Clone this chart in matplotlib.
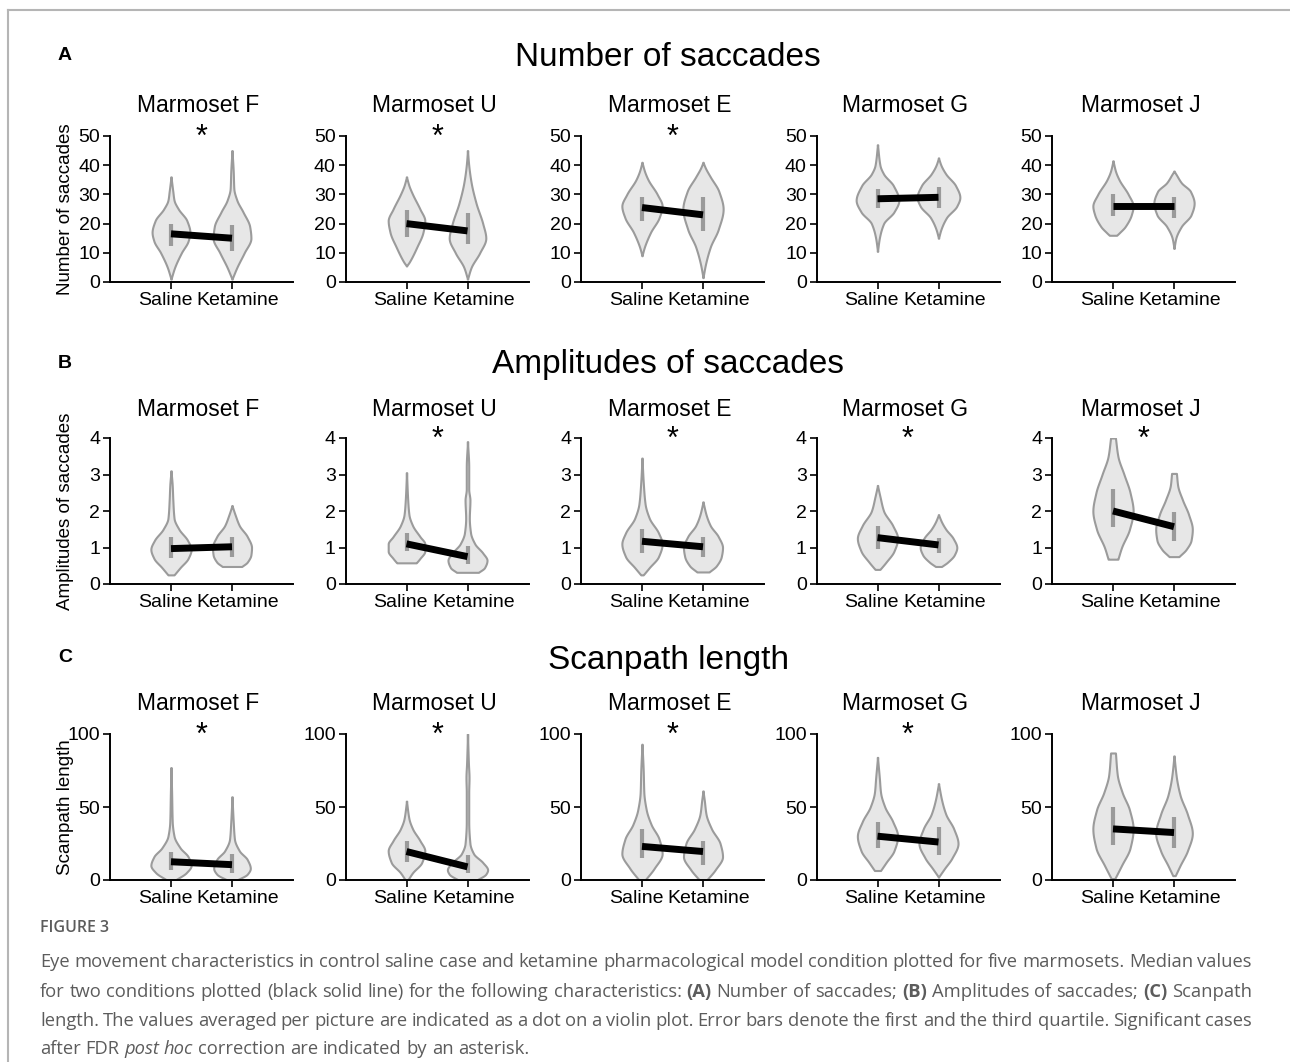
import numpy as np
import matplotlib
matplotlib.use('Agg')
import matplotlib.pyplot as plt
import matplotlib.transforms as mtransforms
from matplotlib.lines import Line2D

plt.rcParams['font.family'] = ['Liberation Sans', 'DejaVu Sans']

# ---------------- data ----------------
monkeys = ['Marmoset F', 'Marmoset U', 'Marmoset E', 'Marmoset G', 'Marmoset J']
conditions = ['Saline', 'Ketamine']

# A: number of saccades
nsac_med_saline = [16.5, 20.0, 25.5, 28.5, 26.0]
nsac_med_ketamine = [15.0, 17.5, 23.0, 29.0, 26.0]
nsac_q_saline = [(12.5, 20.0), (15.5, 24.5), (21.0, 29.0), (25.5, 32.0), (22.5, 30.0)]
nsac_q_ketamine = [(10.5, 19.5), (13.0, 23.5), (17.5, 29.0), (25.5, 32.5), (22.0, 29.0)]
nsac_shape_saline = [
    [(1, 0.0), (5, 0.06), (10, 0.17), (14, 0.28), (17, 0.31), (21, 0.26), (25, 0.12), (28, 0.05), (31, 0.03), (36, 0.0)],
    [(5.5, 0.0), (7, 0.05), (12, 0.17), (17, 0.27), (21, 0.30), (25, 0.22), (30, 0.10), (33, 0.04), (36, 0.0)],
    [(9, 0.0), (12, 0.04), (17, 0.14), (22, 0.28), (26, 0.33), (30, 0.25), (35, 0.10), (38, 0.04), (41, 0.0)],
    [(10.5, 0.0), (15, 0.03), (20, 0.10), (24, 0.27), (28, 0.35), (33, 0.26), (37, 0.10), (40, 0.04), (47, 0.0)],
    [(16, 0.06), (17, 0.11), (19, 0.20), (23, 0.30), (26, 0.33), (30, 0.25), (35, 0.10), (38, 0.04), (41.5, 0.0)],
]
nsac_shape_ketamine = [
    [(1, 0.0), (5, 0.08), (10, 0.20), (15, 0.31), (19, 0.29), (24, 0.18), (28, 0.08), (32, 0.03), (38, 0.02), (45, 0.0)],
    [(1, 0.0), (5, 0.06), (10, 0.20), (15, 0.30), (20, 0.25), (27, 0.14), (34, 0.06), (40, 0.02), (45, 0.0)],
    [(1.5, 0.0), (6, 0.04), (12, 0.12), (18, 0.25), (25, 0.33), (31, 0.26), (36, 0.12), (39, 0.04), (41, 0.0)],
    [(15, 0.0), (18, 0.04), (22, 0.13), (26, 0.30), (29, 0.35), (33, 0.28), (37, 0.12), (40, 0.04), (42.5, 0.0)],
    [(11.5, 0.0), (15, 0.03), (19, 0.12), (23, 0.28), (27, 0.33), (31, 0.27), (34, 0.12), (37, 0.03), (38, 0.0)],
]
nsac_signif = [True, True, True, False, False]

# B: amplitudes of saccades
amp_med_saline = [0.97, 1.10, 1.17, 1.27, 2.00]
amp_med_ketamine = [1.02, 0.75, 1.02, 1.07, 1.57]
amp_q_saline = [(0.72, 1.30), (0.90, 1.40), (0.85, 1.50), (0.97, 1.60), (1.55, 2.60)]
amp_q_ketamine = [(0.75, 1.30), (0.55, 1.05), (0.75, 1.30), (0.85, 1.25), (1.17, 1.97)]
amp_shape_saline = [
    [(0.25, 0.05), (0.45, 0.15), (0.7, 0.28), (0.95, 0.33), (1.2, 0.27), (1.5, 0.13), (1.8, 0.05), (2.3, 0.03), (2.7, 0.02), (3.1, 0.0)],
    [(0.58, 0.16), (0.7, 0.22), (0.9, 0.30), (1.1, 0.30), (1.3, 0.22), (1.6, 0.10), (1.9, 0.04), (2.3, 0.02), (3.05, 0.0)],
    [(0.25, 0.02), (0.45, 0.12), (0.75, 0.27), (1.1, 0.33), (1.4, 0.27), (1.8, 0.12), (2.2, 0.05), (2.8, 0.02), (3.45, 0.0)],
    [(0.4, 0.04), (0.6, 0.14), (0.9, 0.27), (1.25, 0.33), (1.6, 0.25), (2.0, 0.10), (2.4, 0.04), (2.7, 0.0)],
    [(0.68, 0.08), (1.0, 0.14), (1.5, 0.27), (2.0, 0.33), (2.5, 0.28), (3.0, 0.18), (3.5, 0.08), (4.0, 0.04)],
]
amp_shape_ketamine = [
    [(0.48, 0.16), (0.6, 0.25), (0.8, 0.31), (1.0, 0.32), (1.3, 0.25), (1.6, 0.12), (1.9, 0.05), (2.15, 0.0)],
    [(0.32, 0.18), (0.45, 0.28), (0.65, 0.32), (0.85, 0.25), (1.1, 0.12), (1.4, 0.05), (1.8, 0.03), (2.3, 0.04), (2.6, 0.02), (3.2, 0.02), (3.9, 0.0)],
    [(0.33, 0.10), (0.5, 0.22), (0.75, 0.30), (1.0, 0.32), (1.3, 0.25), (1.6, 0.12), (1.9, 0.05), (2.25, 0.0)],
    [(0.48, 0.05), (0.6, 0.15), (0.8, 0.26), (1.0, 0.30), (1.25, 0.24), (1.5, 0.12), (1.7, 0.05), (1.9, 0.0)],
    [(0.75, 0.08), (0.95, 0.20), (1.2, 0.28), (1.5, 0.30), (1.9, 0.24), (2.3, 0.14), (2.7, 0.06), (3.03, 0.04)],
]
amp_signif = [False, True, True, True, True]

# C: scanpath length
scan_med_saline = [12.5, 19.5, 23.0, 30.0, 35.0]
scan_med_ketamine = [10.5, 9.0, 19.5, 26.0, 32.5]
scan_q_saline = [(7, 19), (12, 27), (15, 35), (22, 40), (24, 50)]
scan_q_ketamine = [(5, 17.5), (5, 17), (10, 27), (17, 36), (22, 43)]
scan_shape_saline = [
    [(0, 0.07), (5, 0.25), (10, 0.33), (16, 0.28), (22, 0.15), (30, 0.05), (40, 0.02), (60, 0.01), (77, 0.0)],
    [(0, 0.02), (5, 0.10), (12, 0.25), (20, 0.30), (27, 0.22), (35, 0.10), (42, 0.04), (54, 0.0)],
    [(0, 0.05), (8, 0.20), (18, 0.33), (28, 0.28), (38, 0.15), (48, 0.07), (60, 0.03), (75, 0.02), (93, 0.0)],
    [(6.5, 0.05), (12, 0.14), (20, 0.27), (30, 0.33), (40, 0.25), (50, 0.12), (60, 0.05), (70, 0.03), (84, 0.0)],
    [(1, 0.03), (10, 0.14), (22, 0.28), (35, 0.33), (48, 0.27), (60, 0.15), (72, 0.07), (87, 0.04)],
]
scan_shape_ketamine = [
    [(0, 0.08), (4, 0.25), (8, 0.30), (14, 0.25), (20, 0.12), (28, 0.04), (40, 0.02), (57, 0.0)],
    [(0, 0.15), (4, 0.30), (7, 0.33), (12, 0.25), (18, 0.10), (25, 0.04), (40, 0.02), (60, 0.02), (70, 0.025), (80, 0.015), (100, 0.0)],
    [(0, 0.06), (7, 0.20), (16, 0.32), (25, 0.28), (35, 0.14), (45, 0.05), (55, 0.02), (61, 0.0)],
    [(2, 0.0), (8, 0.10), (15, 0.22), (25, 0.32), (35, 0.25), (45, 0.12), (55, 0.05), (66, 0.0)],
    [(3, 0.02), (10, 0.10), (20, 0.22), (32, 0.30), (45, 0.22), (58, 0.10), (70, 0.04), (85, 0.0)],
]
scan_signif = [True, True, True, True, False]

caption_lines = [
    [("Eye movement characteristics in control saline case and ketamine pharmacological model condition plotted for five marmosets. Median values", 'n')],
    [("for two conditions plotted (black solid line) for the following characteristics:", 'n'), ("(A)", 'b'),
     ("Number of saccades;", 'n'), ("(B)", 'b'), ("Amplitudes of saccades;", 'n'), ("(C)", 'b'), ("Scanpath", 'n')],
    [("length. The values averaged per picture are indicated as a dot on a violin plot. Error bars denote the first and the third quartile. Significant cases", 'n')],
    [("after FDR", 'n'), ("post hoc", 'i'), ("correction are indicated by an asterisk.", 'n')],
]

# ---------------- helpers ----------------
VIOLIN_FACE = '#e7e7e7'
VIOLIN_EDGE = '#9b9b9b'
W, H = 1290, 1062


def profile(knots, n=300):
    ys = np.array([k[0] for k in knots], float)
    ws = np.array([k[1] for k in knots], float)
    d = np.diff(ws) / np.diff(ys)
    m = np.zeros_like(ws)
    m[0], m[-1] = d[0], d[-1]
    for i in range(1, len(ws) - 1):
        if d[i - 1] * d[i] > 0:
            m[i] = 2.0 / (1.0 / d[i - 1] + 1.0 / d[i])
    yy = np.linspace(ys[0], ys[-1], n)
    idx = np.clip(np.searchsorted(ys, yy, side='right') - 1, 0, len(ys) - 2)
    h = ys[idx + 1] - ys[idx]
    t = (yy - ys[idx]) / h
    w = ((2 * t**3 - 3 * t**2 + 1) * ws[idx] + (t**3 - 2 * t**2 + t) * h * m[idx]
         + (-2 * t**3 + 3 * t**2) * ws[idx + 1] + (t**3 - t**2) * h * m[idx + 1])
    return yy, np.clip(w, 0.004, None)


def draw_panel(ax, shapes, quarts, meds, star, ytop, yticks):
    for pos in range(2):
        yy, ww = profile(shapes[pos])
        ax.fill_betweenx(yy, pos - ww, pos + ww, facecolor=VIOLIN_FACE,
                         edgecolor=VIOLIN_EDGE, linewidth=1.5, zorder=2)
        ax.plot([pos, pos], quarts[pos], color='#9a9a9a', lw=3, zorder=3,
                solid_capstyle='butt')
    ax.plot([0, 1], meds, color='black', lw=5, zorder=4, solid_capstyle='butt')
    if star:
        ax.text(0.5, ytop * 0.99, '*', ha='center', va='center', fontsize=22,
                clip_on=False, zorder=5)
    ax.set_xlim(-1, 2)
    ax.set_ylim(0, ytop)
    ax.set_xticks([0, 1])
    ax.set_xticklabels(conditions)
    ax.set_yticks(yticks)
    ax.spines['top'].set_visible(False)
    ax.spines['right'].set_visible(False)
    ax.spines['left'].set_linewidth(1.4)
    ax.spines['bottom'].set_linewidth(1.4)
    ax.tick_params(direction='out', length=5, width=1.2, labelsize=14, pad=2)
    # spread the two condition names apart a little, as in the original
    shifts = [-6, 6]
    for lab, dx in zip(ax.get_xticklabels(), shifts):
        lab.set_transform(lab.get_transform() +
                          mtransforms.ScaledTranslation(dx / 100, 0, fig.dpi_scale_trans))


# ---------------- figure ----------------
fig = plt.figure(figsize=(W / 100, H / 100), dpi=100)

rows = [
    ('A', 'Number of saccades', 282, 56, 105, nsac_shape_saline, nsac_shape_ketamine, nsac_q_saline, nsac_q_ketamine,
     nsac_med_saline, nsac_med_ketamine, nsac_signif, 50, [0, 10, 20, 30, 40, 50]),
    ('B', 'Amplitudes of saccades', 584, 363, 409, amp_shape_saline, amp_shape_ketamine, amp_q_saline, amp_q_ketamine,
     amp_med_saline, amp_med_ketamine, amp_signif, 4, [0, 1, 2, 3, 4]),
    ('C', 'Scanpath length', 880, 658, 703, scan_shape_saline, scan_shape_ketamine, scan_q_saline, scan_q_ketamine,
     scan_med_saline, scan_med_ketamine, scan_signif, 100, [0, 50, 100]),
]

lefts = [110, 345.5, 581, 816.5, 1052]
ax_w, ax_h = 183, 146

for (letter, title, bottom, ytitle, ysub, sh_s, sh_k, q_s, q_k, m_s, m_k, sig, ytop, yt) in rows:
    fig.text(58 / W, 1 - ytitle / H, letter, fontsize=14, fontweight='bold', va='center', ha='left')
    fig.text(668 / W, 1 - (ytitle + 2) / H, title, fontsize=24, va='center', ha='center')
    for i in range(5):
        ax = fig.add_axes([lefts[i] / W, 1 - bottom / H, ax_w / W, ax_h / H])
        draw_panel(ax, [sh_s[i], sh_k[i]], [q_s[i], q_k[i]], [m_s[i], m_k[i]], sig[i], ytop, yt)
        fig.text((lefts[i] + ax_w / 2 - 3) / W, 1 - (ysub + 1) / H, monkeys[i], fontsize=16.5,
                 ha='center', va='center')
    fig.text(65 / W, 1 - (bottom - ax_h / 2) / H, title, rotation=90, fontsize=13.5,
             ha='center', va='center')

# page frame lines
fig.add_artist(Line2D([8 / W, 1], [1 - 10 / H, 1 - 10 / H], transform=fig.transFigure, color='#b5b5b5', lw=1.5))
fig.add_artist(Line2D([8 / W, 8 / W], [0, 1 - 10 / H], transform=fig.transFigure, color='#b5b5b5', lw=1.5))

# caption
cap_color = '#5c5c5c'
cap_font = ['Open Sans', 'DejaVu Sans']
fig.text(40 / W, 1 - 928 / H, 'FIGURE 3', fontsize=11.5, fontweight='semibold', color=cap_color,
         family=cap_font, va='center', ha='left')

renderer = fig.canvas.get_renderer()


def word_width(txt, size, style):
    t = fig.text(0, 0, txt, fontsize=size, family=cap_font,
                 fontweight='bold' if style == 'b' else 'normal',
                 fontstyle='italic' if style == 'i' else 'normal')
    w = t.get_window_extent(renderer).width
    t.remove()
    return w


x0, x1 = 40, 1252
# font size chosen so the first caption line fills the width with plain spacing
base = 12.0
first = caption_lines[0][0][0]
cap_size = base * (x1 - x0 - 4) / word_width(first, base, 'n')

line_y = [962, 992, 1021, 1049]
for li, segs in enumerate(caption_lines):
    words = []
    for txt, st in segs:
        for wd in txt.split(' '):
            words.append((wd, st))
    widths = [word_width(wd, cap_size, st) for wd, st in words]
    space = word_width('a a', cap_size, 'n') - word_width('aa', cap_size, 'n')
    if li < 3:
        gap = (x1 - x0 - sum(widths)) / (len(words) - 1)
    else:
        gap = space
    x = x0
    for (wd, st), wdt in zip(words, widths):
        fig.text(x / W, 1 - line_y[li] / H, wd, fontsize=cap_size, family=cap_font, color=cap_color,
                 fontweight='bold' if st == 'b' else 'normal',
                 fontstyle='italic' if st == 'i' else 'normal', va='center', ha='left')
        x += wdt + gap

fig.savefig('out.png', dpi=100)
